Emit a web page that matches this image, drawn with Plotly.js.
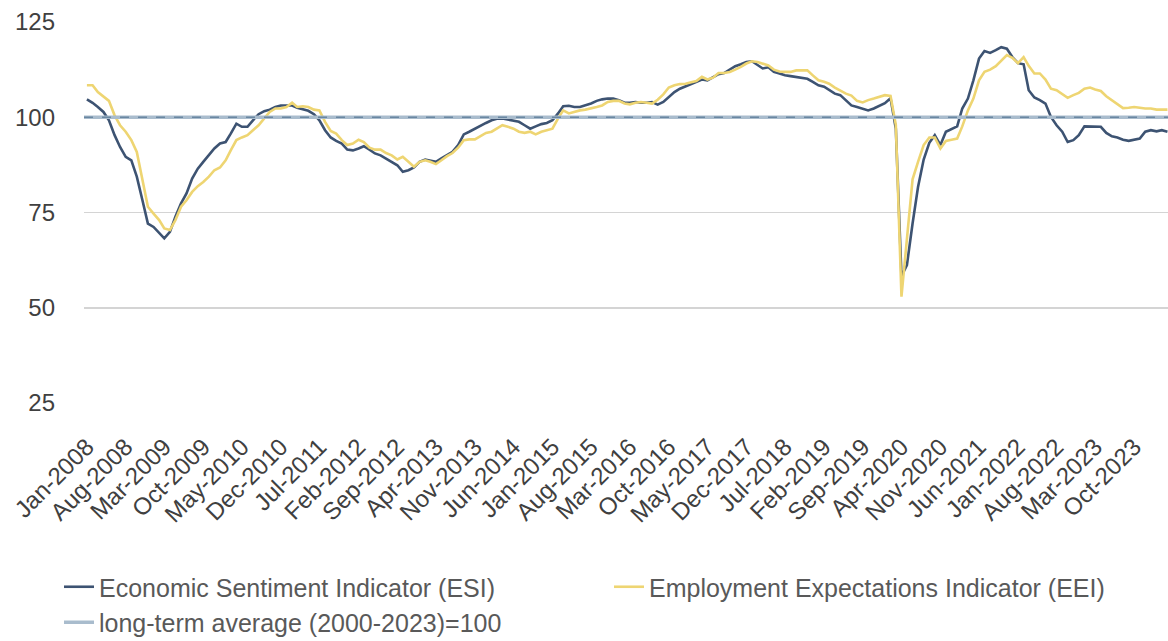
<!DOCTYPE html>
<html>
<head>
<meta charset="utf-8">
<script src="https://cdn.plot.ly/plotly-3.0.1.min.js"></script>
<style>
html,body{margin:0;padding:0;background:#fff;}
#chart{width:1168px;height:641px;}
</style>
</head>
<body>
<div id="chart"></div>
<script>
// Monthly series, Jan-2008 onwards (one value per month)
const startYear = 2008;
const esi = [
104.7,103.8,102.7,101.4,99.2,95.3,92.2,89.6,88.7,84.4,78.2,72.1,
71.2,69.5,68.2,69.9,73.9,77.4,80.0,83.9,86.5,88.3,90.0,91.8,
93.1,93.5,95.7,98.3,97.5,97.5,99.2,100.8,101.6,102.0,102.7,103.1,
103.1,103.1,102.5,102.0,101.7,100.8,99.2,96.6,94.7,93.8,93.1,91.5,
91.3,91.8,92.4,91.5,90.5,90.0,89.2,88.3,87.4,85.7,86.1,86.8,
88.3,88.9,88.7,88.3,89.2,90.0,90.9,92.7,95.5,96.2,97.0,97.9,
98.5,99.2,99.6,99.7,99.4,99.2,98.8,97.9,97.0,97.6,98.2,98.5,
99.2,101.0,102.9,103.0,102.7,102.7,103.1,103.6,104.3,104.7,104.9,104.9,
104.5,103.8,103.8,104.0,103.8,103.8,104.0,103.3,104.0,105.3,106.6,107.5,
108.1,108.7,109.3,109.9,109.7,110.6,111.3,111.6,112.5,113.4,113.9,114.5,
114.7,113.6,112.8,113.1,111.9,111.5,111.0,110.8,110.6,110.4,110.1,109.3,
108.4,108.0,107.1,106.2,105.8,104.5,103.1,102.7,102.3,101.8,102.3,102.9,
103.7,105.0,97.0,58.3,61.2,72.1,81.7,88.9,93.3,95.3,92.7,96.2,
97.0,97.6,102.3,104.9,109.7,115.4,117.4,116.9,117.6,118.4,118.0,115.8,
114.2,113.9,107.1,105.2,104.5,103.6,100.1,97.9,96.2,93.5,94.0,95.3,
97.6,97.6,97.6,97.5,95.9,95.0,94.7,94.1,93.8,94.0,94.4,96.2,
96.6,96.3,96.6,96.2
];
const eei = [
108.4,108.4,106.6,105.5,104.3,100.5,97.9,96.2,94.0,90.9,83.5,76.5,
74.7,73.0,70.8,70.4,73.0,76.5,78.2,80.4,81.9,83.0,84.4,86.1,
86.8,88.7,91.3,94.0,94.7,95.3,96.6,97.9,99.7,101.4,102.3,102.3,
102.7,103.8,102.7,102.9,102.7,102.0,101.8,98.8,96.4,95.7,94.0,92.7,
93.1,94.1,93.5,92.0,91.5,91.5,90.6,90.0,88.9,89.6,88.3,87.0,
88.3,88.7,88.3,87.7,88.7,89.8,90.6,92.0,94.0,94.2,94.2,95.0,
95.9,96.2,97.0,97.9,97.5,97.0,96.2,95.9,96.2,95.5,96.2,96.6,
97.0,99.7,101.8,101.0,101.4,101.8,102.0,102.3,102.7,103.1,104.0,104.3,
104.3,103.6,103.4,103.8,104.0,103.8,103.6,104.6,106.0,107.8,108.4,108.7,
108.8,109.2,109.5,110.6,109.9,110.4,111.6,111.6,111.9,112.5,113.2,114.1,
114.7,114.5,114.1,113.6,112.5,112.0,111.9,111.9,112.3,112.3,112.3,111.0,
109.7,109.3,108.8,107.8,106.9,106.2,105.7,104.3,103.9,104.5,104.9,105.4,
105.8,105.6,98.0,52.9,68.0,83.7,88.3,92.7,94.7,94.7,91.8,93.8,
94.1,94.4,97.6,101.8,104.9,109.7,111.9,112.5,113.4,114.9,116.3,115.6,
114.2,115.8,113.5,111.5,111.5,109.9,107.5,107.1,106.2,105.1,105.8,106.4,
107.5,107.8,107.3,106.9,105.5,104.5,103.6,102.4,102.5,102.7,102.5,102.3,
102.3,102.0,102.0,102.0
];
const longTermAverage = 100;
const seriesNames = ["Economic Sentiment Indicator (ESI)", "Employment Expectations Indicator (EEI)", "long-term average (2000-2023)=100"];
const yTicks = [25, 50, 75, 100, 125];

// month categories (dates)
const months = esi.map((_, i) => {
  const y = startYear + Math.floor(i / 12);
  const m = (i % 12) + 1;
  return y + "-" + String(m).padStart(2, "0") + "-01";
});

const FONT = "'Liberation Sans', Arial, sans-serif";

const traces = [
  {x: months, y: esi, name: seriesNames[0], type: "scatter", mode: "lines",
   line: {color: "#3d5372", width: 2.6}},
  {x: months, y: eei, name: seriesNames[1], type: "scatter", mode: "lines",
   line: {color: "#eed572", width: 2.6}}
];

const layout = {
  width: 1168, height: 641,
  margin: {l: 84, r: 0, t: 22, b: 238, autoexpand: false},
  paper_bgcolor: "#fff", plot_bgcolor: "#fff",
  font: {family: FONT, color: "#404040"},
  showlegend: true,
  xaxis: {
    type: "date",
    range: ["2007-12-16", "2024-04-04"],
    tick0: months[0], dtick: "M7", tickformat: "%b-%Y",
    tickangle: -45, showgrid: false, zeroline: false, showline: false,
    ticks: "", ticklabelstandoff: 24, automargin: false,
    tickfont: {size: 24, color: "#404040", family: FONT}
  },
  yaxis: {
    range: [25, 125], tickvals: yTicks, showgrid: true,
    gridcolor: "#d4d4d4", gridwidth: 1.5, zeroline: false, showline: false,
    ticks: "", ticklabelstandoff: 28, automargin: false,
    tickfont: {size: 24, color: "#404040", family: FONT}
  },
  legend: {
    orientation: "h", xref: "paper", yref: "paper",
    x: (59 - 84) / 1084, y: (403 - 564) / 381, xanchor: "left", yanchor: "top",
    font: {size: 25, color: "#595959", family: FONT},
    itemwidth: 30, entrywidth: 505, entrywidthmode: "pixels",
    bgcolor: "rgba(0,0,0,0)", traceorder: "normal"
  },
  shapes: [
    {type: "line", xref: "paper", x0: 0, x1: 1, yref: "y", y0: longTermAverage, y1: longTermAverage,
     line: {color: "#a9bccd", width: 3.5}, layer: "above",
     showlegend: true, name: seriesNames[2], legendrank: 1003},
    {type: "line", xref: "paper", x0: 0, x1: 1, yref: "y", y0: longTermAverage, y1: longTermAverage,
     line: {color: "#6a87a2", width: 1.4, dash: "dash"}, layer: "above", showlegend: false}
  ]
};

Plotly.newPlot("chart", traces, layout, {displayModeBar: false, staticPlot: true});
</script>
</body>
</html>
